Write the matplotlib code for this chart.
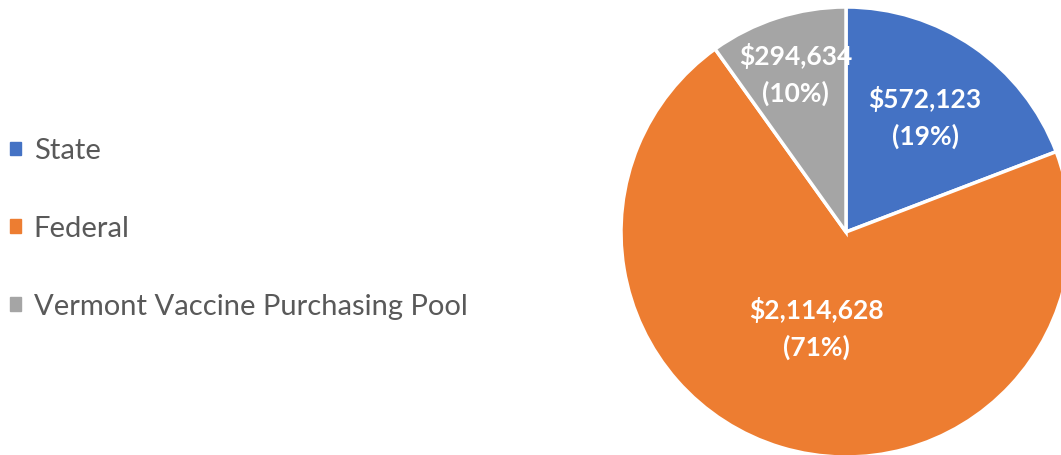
import numpy as np
import matplotlib.pyplot as plt
from matplotlib.patches import Patch

# funding sources
fontes = ['State', 'Federal', 'Vermont Vaccine Purchasing Pool']
valores = [572123, 2114628, 294634]
cores = ['#4472C4', '#ED7D31', '#A5A5A5']

# distancia relativa de cada rotulo ao centro
dist_rotulos = [0.62, 0.45, 0.735]


def rotulo(v):
    pct = v / sum(valores) * 100
    return '${:,}\n({:.0f}%)'.format(v, pct)


fig = plt.figure(figsize=(10.61, 4.55), dpi=100)
ax = fig.add_axes([0, 0, 1, 1])

cx, cy, raio = 846, 223, 225
fatias, _ = ax.pie(valores, colors=cores, startangle=90, counterclock=False,
                   center=(cx, cy), radius=raio, frame=True,
                   wedgeprops=dict(edgecolor='white', linewidth=2.5))
ax.set_xlim(0, 1061)
ax.set_ylim(0, 455)
ax.set_aspect('equal')
ax.axis('off')

for f, v, d in zip(fatias, valores, dist_rotulos):
    ang = np.deg2rad((f.theta1 + f.theta2) / 2)
    x = cx + d * raio * np.cos(ang)
    y = cy + d * raio * np.sin(ang)
    ax.text(x, y, rotulo(v), ha='center', va='center', color='white',
            fontsize=19, fontweight='bold', family='Lato', linespacing=1.55)

handles = [Patch(color=c) for c in cores]
leg = ax.legend(handles, fontes, loc='center left', bbox_to_anchor=(10 / 1061, 0.497),
                frameon=False, labelspacing=1.78, borderaxespad=0, borderpad=0,
                handlelength=0.36, handleheight=0.36, handletextpad=0.45,
                prop={'family': 'Lato', 'size': 21})
for t in leg.get_texts():
    t.set_color('#595959')

fig.savefig('out.png', dpi=100)
